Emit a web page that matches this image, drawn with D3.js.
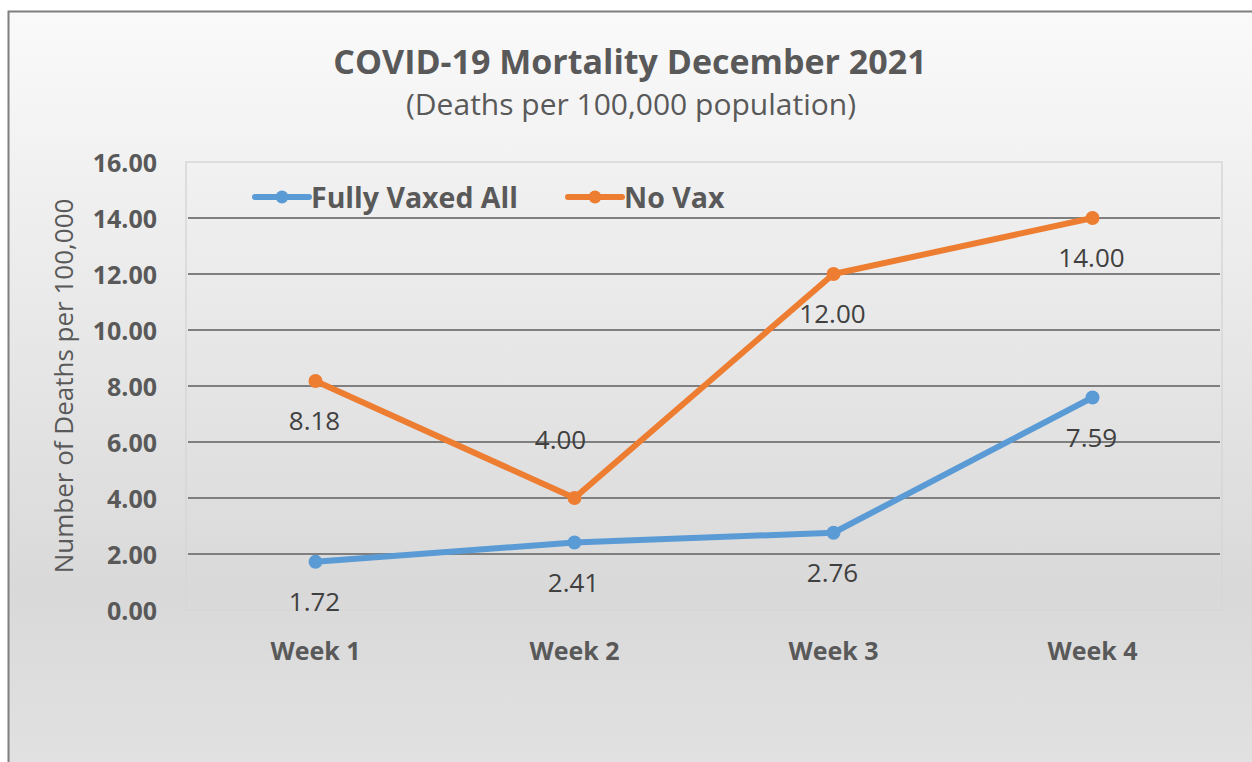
<!DOCTYPE html>
<html>
<head>
<meta charset="utf-8">
<script src="https://cdn.jsdelivr.net/npm/d3@7"></script>
<style>
  body { margin: 0; background: #fff; }
  text { font-family: "Open Sans", sans-serif; }
</style>
</head>
<body>
<svg id="chart"></svg>
<script>
// data
var weeks = ["Week 1", "Week 2", "Week 3", "Week 4"];
var seriesNames = ["Fully Vaxed All", "No Vax"];
var fullyVaxed = [1.72, 2.41, 2.76, 7.59];
var noVax = [8.18, 4.00, 12.00, 14.00];
var yTicks = [0, 2, 4, 6, 8, 10, 12, 14, 16];

(function(){
var W = 1252, H = 762;
var colors = {"Fully Vaxed All": "#5b9bd5", "No Vax": "#ed7d31"};
var textGray = "#595959";

var svg = d3.select("#chart").attr("width", W).attr("height", H);

// background gradient
var defs = svg.append("defs");
var grad = defs.append("linearGradient").attr("id", "bg")
  .attr("x1", 0).attr("y1", 0).attr("x2", 0).attr("y2", 1);
grad.append("stop").attr("offset", "0%").attr("stop-color", "#fafafa");
grad.append("stop").attr("offset", "75%").attr("stop-color", "#d9d9d9");
grad.append("stop").attr("offset", "100%").attr("stop-color", "#e2e2e2");

svg.append("rect")
  .attr("x", 8.5).attr("y", 11.5)
  .attr("width", W + 10).attr("height", H + 10)
  .attr("fill", "url(#bg)")
  .attr("stroke", "#7f7f7f").attr("stroke-width", 2);

var pLeft = 186, pRight = 1222, pTop = 162, pBottom = 610;

var x = d3.scaleBand().domain(weeks).range([pLeft, pRight]);
var y = d3.scaleLinear().domain([0, 16]).range([pBottom, pTop]);

// plot area border
svg.append("rect")
  .attr("x", pLeft).attr("y", pTop)
  .attr("width", pRight - pLeft).attr("height", pBottom - pTop)
  .attr("fill", "none").attr("stroke", "#d6d6d6").attr("stroke-width", 1.5);

// gridlines
svg.append("g").selectAll("line")
  .data(yTicks.filter(function(d){ return d > 0 && d < 16; }))
  .enter().append("line")
    .attr("x1", pLeft + 2).attr("x2", pRight - 2)
    .attr("y1", function(d){ return y(d); })
    .attr("y2", function(d){ return y(d); })
    .attr("stroke", "#7f7f7f").attr("stroke-width", 2);

// y axis labels
var yAxis = d3.axisLeft(y).tickValues(yTicks)
  .tickFormat(function(d){ return d3.format(".2f")(d); })
  .tickSize(0).tickPadding(0);
var yg = svg.append("g")
  .attr("transform", "translate(157,0)")
  .call(yAxis);
yg.select(".domain").remove();
yg.selectAll("text")
  .attr("fill", textGray)
  .style("font-size", "25px").style("font-weight", "bold")
  .attr("dy", "0.36em");

// x axis labels
var xAxis = d3.axisBottom(x).tickSize(0).tickPadding(0);
var xg = svg.append("g")
  .attr("transform", "translate(0,651)")
  .call(xAxis);
xg.select(".domain").remove();
xg.selectAll("text")
  .attr("fill", textGray).attr("y", 0)
  .style("font-size", "25px").style("font-weight", "bold")
  .attr("dy", "0.36em");

// axis title
svg.append("text")
  .attr("transform", "translate(64,386) rotate(-90)")
  .attr("text-anchor", "middle")
  .attr("dy", "0.36em")
  .attr("fill", textGray)
  .style("font-size", "26px")
  .text("Number of Deaths per 100,000");

// titles
svg.append("text")
  .attr("x", 630).attr("y", 74)
  .attr("text-anchor", "middle")
  .attr("fill", textGray)
  .style("font-size", "34px").style("font-weight", "bold")
  .text("COVID-19 Mortality December 2021");
svg.append("text")
  .attr("x", 631).attr("y", 115)
  .attr("text-anchor", "middle")
  .attr("fill", textGray)
  .style("font-size", "30px")
  .text("(Deaths per 100,000 population)");

// series
var series = [
  {name: seriesNames[0], values: fullyVaxed},
  {name: seriesNames[1], values: noVax}
];
var cx = function(i){ return x(weeks[i]) + x.bandwidth() / 2; };
var line = d3.line()
  .x(function(d, i){ return cx(i); })
  .y(function(d){ return y(d); });

series.forEach(function(s){
  var g = svg.append("g");
  g.append("path")
    .attr("d", line(s.values))
    .attr("fill", "none")
    .attr("stroke", colors[s.name])
    .attr("stroke-width", 6)
    .attr("stroke-linejoin", "round");
  g.selectAll("circle").data(s.values).enter().append("circle")
    .attr("cx", function(d, i){ return cx(i); })
    .attr("cy", function(d){ return y(d); })
    .attr("r", 7)
    .attr("fill", colors[s.name]);
  g.selectAll("text").data(s.values).enter().append("text")
    .attr("x", function(d, i){
      // the week 2 no-vax label sits above and a bit to the left
      return (s.name === "No Vax" && i === 1) ? cx(i) - 14 : cx(i) - 1;
    })
    .attr("y", function(d, i){
      return (s.name === "No Vax" && i === 1) ? y(d) - 58 : y(d) + 40;
    })
    .attr("dy", "0.36em")
    .attr("text-anchor", "middle")
    .attr("fill", "#404040")
    .style("font-size", "26px")
    .text(function(d){ return d3.format(".2f")(d); });
});

// legend
var legendPos = [255, 568];
var lg = svg.append("g");
series.forEach(function(s, i){
  var lx = legendPos[i];
  lg.append("line")
    .attr("x1", lx).attr("x2", lx + 54)
    .attr("y1", 197).attr("y2", 197)
    .attr("stroke", colors[s.name]).attr("stroke-width", 6)
    .attr("stroke-linecap", "round");
  lg.append("circle")
    .attr("cx", lx + 27).attr("cy", 197).attr("r", 6.5)
    .attr("fill", colors[s.name]);
  lg.append("text")
    .attr("x", lx + 56).attr("y", 198)
    .attr("dy", "0.36em")
    .attr("fill", textGray)
    .style("font-size", "28.5px").style("font-weight", "bold")
    .text(s.name);
});
})();
</script>
</body>
</html>
